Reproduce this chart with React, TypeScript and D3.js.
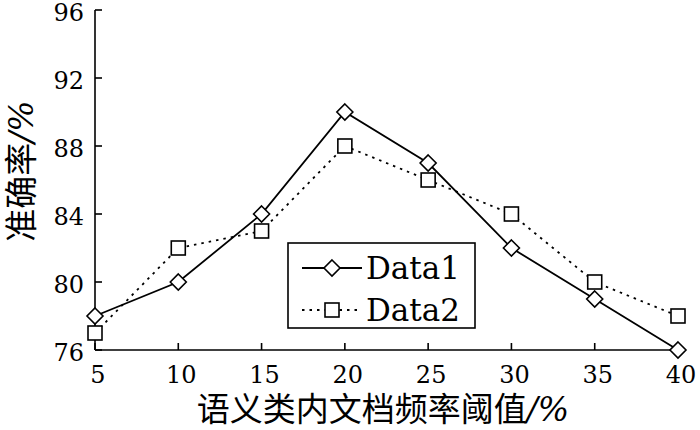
import React from "react";
import * as d3 from "d3";

const categories = [5, 10, 15, 20, 25, 30, 35, 40];
const data1 = [78, 80, 84, 90, 87, 82, 79, 76];
const data2 = [77, 82, 83, 88, 86, 84, 80, 78];
const xTicks = [5, 10, 15, 20, 25, 30, 35, 40];
const yTicks = [76, 80, 84, 88, 92, 96];
const seriesNames = ["Data1", "Data2"];

const W = 700;
const H = 430;
const latin = "'DejaVu Serif', 'Liberation Serif', serif";
const cjk = "'DejaVu Serif', 'Noto Sans CJK SC', sans-serif";

export default function App() {
  const x = d3.scaleLinear().domain([5, 40]).range([95, 678]);
  const y = d3.scaleLinear().domain([76, 96]).range([350, 10]);
  const line = d3
    .line<number>()
    .x((_, i) => x(categories[i]))
    .y((d) => y(d));

  const diamond = (cx: number, cy: number, r = 8) =>
    `M${cx},${cy - r}L${cx + r},${cy}L${cx},${cy + r}L${cx - r},${cy}Z`;
  const sq = 7;

  const legX = 288, legY = 243, legW = 187, legH = 85;
  const row1 = 268, row2 = 310;

  return (
    <svg
      width={W}
      height={H}
      style={{ position: "absolute", left: 0, top: 0, background: "#fff" }}
    >
      {/* axes */}
      <line x1={95} y1={y(96)} x2={95} y2={y(76)} stroke="#000" strokeWidth={1.6} />
      <line x1={95} y1={y(76)} x2={x(40)} y2={y(76)} stroke="#000" strokeWidth={1.6} />
      {yTicks.map((t) => (
        <g key={"y" + t}>
          <line x1={95} x2={102} y1={y(t)} y2={y(t)} stroke="#000" strokeWidth={1.6} />
          <text
            x={84}
            y={y(t) + 3}
            textAnchor="end"
            dominantBaseline="central"
            fontFamily={latin}
            fontSize={24}
          >
            {t}
          </text>
        </g>
      ))}
      {xTicks.map((t) => (
        <g key={"x" + t}>
          <line x1={x(t)} x2={x(t)} y1={y(76)} y2={y(76) - 7} stroke="#000" strokeWidth={1.6} />
          <text
            x={x(t) + 3}
            y={383}
            textAnchor="middle"
            fontFamily={latin}
            fontSize={24}
          >
            {t}
          </text>
        </g>
      ))}

      {/* axis titles */}
      <text
        x={383}
        y={421}
        textAnchor="middle"
        fontFamily={cjk}
        fontSize={33}
      >
        语义类内文档频率阈值<tspan fontStyle="italic">/%</tspan>
      </text>
      <text
        transform={`translate(33,171) rotate(-90)`}
        textAnchor="middle"
        fontFamily={cjk}
        fontSize={33}
      >
        准确率<tspan fontStyle="italic">/%</tspan>
      </text>

      {/* series */}
      <path d={line(data2) || ""} fill="none" stroke="#000" strokeWidth={1.8} strokeDasharray="2.5,5" />
      <path d={line(data1) || ""} fill="none" stroke="#000" strokeWidth={1.8} />
      {data2.map((v, i) => (
        <rect
          key={"s" + i}
          x={x(categories[i]) - sq}
          y={y(v) - sq}
          width={sq * 2}
          height={sq * 2}
          fill="#fff"
          stroke="#000"
          strokeWidth={1.6}
        />
      ))}
      {data1.map((v, i) => (
        <path
          key={"d" + i}
          d={diamond(x(categories[i]), y(v))}
          fill="#fff"
          stroke="#000"
          strokeWidth={1.6}
        />
      ))}

      {/* legend */}
      <rect x={legX} y={legY} width={legW} height={legH} fill="#fff" stroke="#000" strokeWidth={1.6} />
      <line x1={302} x2={362} y1={row1} y2={row1} stroke="#000" strokeWidth={1.8} />
      <path d={diamond(332, row1, 8)} fill="#fff" stroke="#000" strokeWidth={1.6} />
      <text x={366} y={row1 + 11} fontFamily={latin} fontSize={31}>
        {seriesNames[0]}
      </text>
      <line x1={302} x2={362} y1={row2} y2={row2} stroke="#000" strokeWidth={1.8} strokeDasharray="2.5,5" />
      <rect x={332 - sq} y={row2 - sq} width={sq * 2} height={sq * 2} fill="#fff" stroke="#000" strokeWidth={1.6} />
      <text x={366} y={row2 + 11} fontFamily={latin} fontSize={31}>
        {seriesNames[1]}
      </text>
    </svg>
  );
}
